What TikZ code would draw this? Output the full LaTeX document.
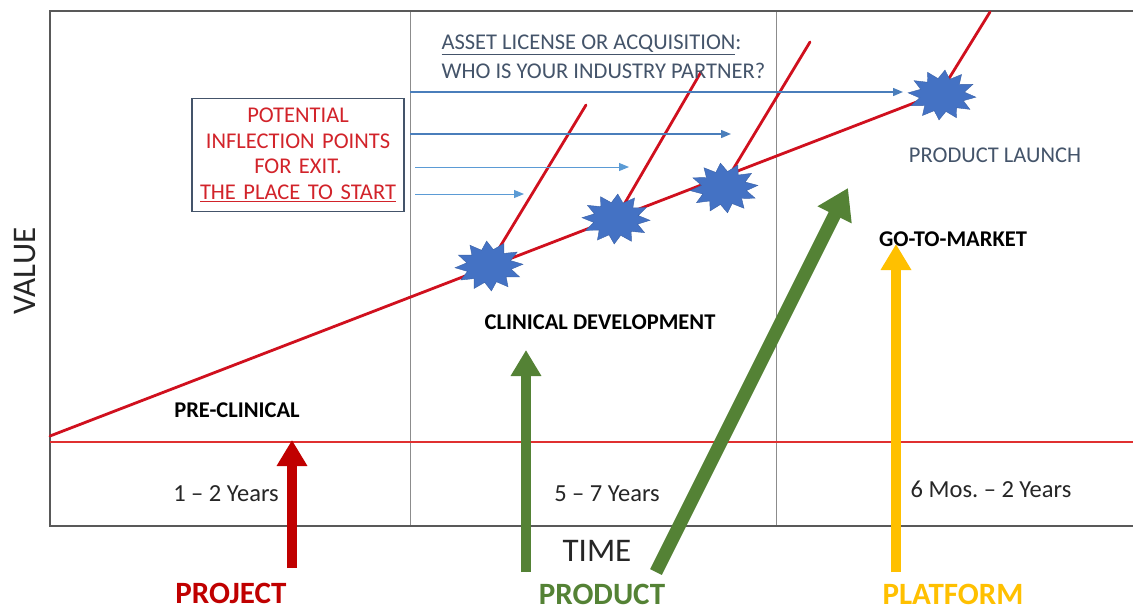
\documentclass[tikz,border=0pt]{standalone}
\usepackage{fontspec}
\setmainfont{Carlito}
\frenchspacing
\usetikzlibrary{arrows.meta,shapes.geometric}

\definecolor{framegray}{HTML}{595959}
\definecolor{divgray}{HTML}{8C8C8C}
\definecolor{curvered}{HTML}{D0101E}
\definecolor{basered}{HTML}{E03030}
\definecolor{burstblue}{HTML}{4472C4}
\definecolor{slate}{HTML}{44546A}
\definecolor{pointerblue}{HTML}{5B9BD5}
\definecolor{pointerdark}{HTML}{4A7EBB}
\definecolor{projred}{HTML}{C00000}
\definecolor{prodgreen}{HTML}{548235}
\definecolor{platgold}{HTML}{FFC000}
\definecolor{boxred}{HTML}{D2232A}

\tikzset{
  frameline/.style={draw=framegray, line width=2pt},
  divider/.style={draw=divgray, line width=1pt},
  curve/.style={draw=curvered, line width=2.8pt, line cap=round, line join=round},
  burst/.style={star, star points=12, star point ratio=1.5, fill=burstblue,
    draw=burstblue!85!black, line width=0.4pt, minimum size=50pt, inner sep=0pt, xscale=1.36},
  pointer/.style={draw=pointerblue, line width=1pt, -{Triangle[length=10pt,width=8pt]}},
  pointerbold/.style={draw=pointerdark, line width=1.4pt, -{Triangle[length=10pt,width=8pt]}},
  bigarrow/.style={line width=10pt, -{Triangle[length=26pt,width=29pt]}},
  phase/.style={font=\bfseries\fontsize{22.5}{26}\selectfont, text=black},
  span/.style={font=\fontsize{24.5}{28}\selectfont, text=black!85},
  stage/.style={font=\bfseries\fontsize{31}{36}\selectfont},
  axislabel/.style={font=\fontsize{33}{38}\selectfont, text=black!85},
  note/.style={font=\fontsize{22.5}{25.5}\selectfont, text=slate},
  exitbox/.style={draw=slate, line width=1.5pt, text=boxred, align=center,
    text width=200pt, inner xsep=6pt, minimum height=113pt,
    font=\fontsize{22.5}{25.5}\selectfont}
}

\begin{document}
\begin{tikzpicture}[x=1pt, y=-1pt]
  \fill[white] (0,0) rectangle (1133,611);
  \useasboundingbox (0,0) rectangle (1133,611);

  % chart frame and phase dividers
  \draw[divider] (410,11) -- (410,526);
  \draw[divider] (776,11) -- (776,526);
  \draw[frameline] (1133,11) -- (50,11) -- (50,526) -- (1133,526);
  \draw[draw=basered, line width=1.3pt] (50,442) -- (1133,442);

  % value curve with its branches
  \coordinate (c0) at (50,436);
  \coordinate (cbend) at (940,93);
  \coordinate (ctop) at (990,12);
  \coordinate (b1a) at (495,255);
  \coordinate (b1b) at (586,105);
  \coordinate (b2a) at (622,208);
  \coordinate (b2b) at (701,72);
  \coordinate (b3a) at (729,176);
  \coordinate (b3b) at (810,42);
  \draw[curve] (c0) -- (cbend) -- (ctop);
  \draw[curve] (b1a) -- (b1b);
  \draw[curve] (b2a) -- (b2b);
  \draw[curve] (b3a) -- (b3b);

  % inflection points
  \node[burst, rotate=4] (s1) at (489,266) {};
  \node[burst, rotate=-3] (s2) at (616,219) {};
  \node[burst, rotate=6] (s3) at (724,188) {};
  \node[burst, rotate=-5] (s4) at (942,95) {};

  % exit box and its pointers
  \node[exitbox] (exit) at (298,155)
    {POTENTIAL\\INFLECTION POINTS\\FOR EXIT.\\\underline{THE PLACE TO START}};
  \coordinate (p1s) at (410,92);  \coordinate (p1e) at (903,92);
  \coordinate (p2s) at (410,134); \coordinate (p2e) at (731,134);
  \coordinate (p3s) at (415,167); \coordinate (p3e) at (629,167);
  \coordinate (p4s) at (415,194); \coordinate (p4e) at (524,194);
  \draw[pointerbold] (p1s) -- (p1e);
  \draw[pointerbold] (p2s) -- (p2e);
  \draw[pointer] (p3s) -- (p3e);
  \draw[pointer] (p4s) -- (p4e);

  % notes
  \node[note, anchor=west] (asset) at (438,45) {\underline{ASSET LICENSE OR ACQUISITION}:};
  \node[note, anchor=west] (partner) at (438,71) {WHO IS YOUR INDUSTRY PARTNER?};
  \node[note] (launch) at (995,155) {PRODUCT LAUNCH};

  % phase names and durations
  \node[phase] (gtm) at (953,239) {GO-TO-MARKET};
  \node[phase] (clin) at (600,322) {CLINICAL DEVELOPMENT};
  \node[phase] (pre) at (237,410) {PRE-CLINICAL};
  \node[span] (d1) at (226,494) {1 – 2 Years};
  \node[span] (d2) at (607,494) {5 – 7 Years};
  \node[span] (d3) at (991,489) {6 Mos. – 2 Years};

  % axis labels
  \node[axislabel] (time) at (597,551) {TIME};
  \node[axislabel, rotate=90] (value) at (25,271) {VALUE};

  % stage labels with their arrows
  \node[stage, text=projred] (project) at (231,593) {PROJECT};
  \node[stage, text=prodgreen] (product) at (602,594) {PRODUCT};
  \node[stage, text=platgold] (platform) at (953,594) {PLATFORM};
  \coordinate (a1s) at (292,568); \coordinate (a1e) at (292,440);
  \coordinate (a2s) at (526,572); \coordinate (a2e) at (526,350);
  \coordinate (a3s) at (656,572); \coordinate (a3e) at (848,188);
  \coordinate (a4s) at (896,572); \coordinate (a4e) at (896,244);
  \draw[bigarrow, draw=projred, fill=projred] (a1s) -- (a1e);
  \draw[bigarrow, draw=prodgreen, fill=prodgreen] (a2s) -- (a2e);
  \draw[line width=13pt, draw=prodgreen, fill=prodgreen,
    -{Triangle[length=30pt,width=36pt]}] (a3s) -- (a3e);
  \draw[bigarrow, draw=platgold, fill=platgold] (a4s) -- (a4e);
\end{tikzpicture}
\end{document}
